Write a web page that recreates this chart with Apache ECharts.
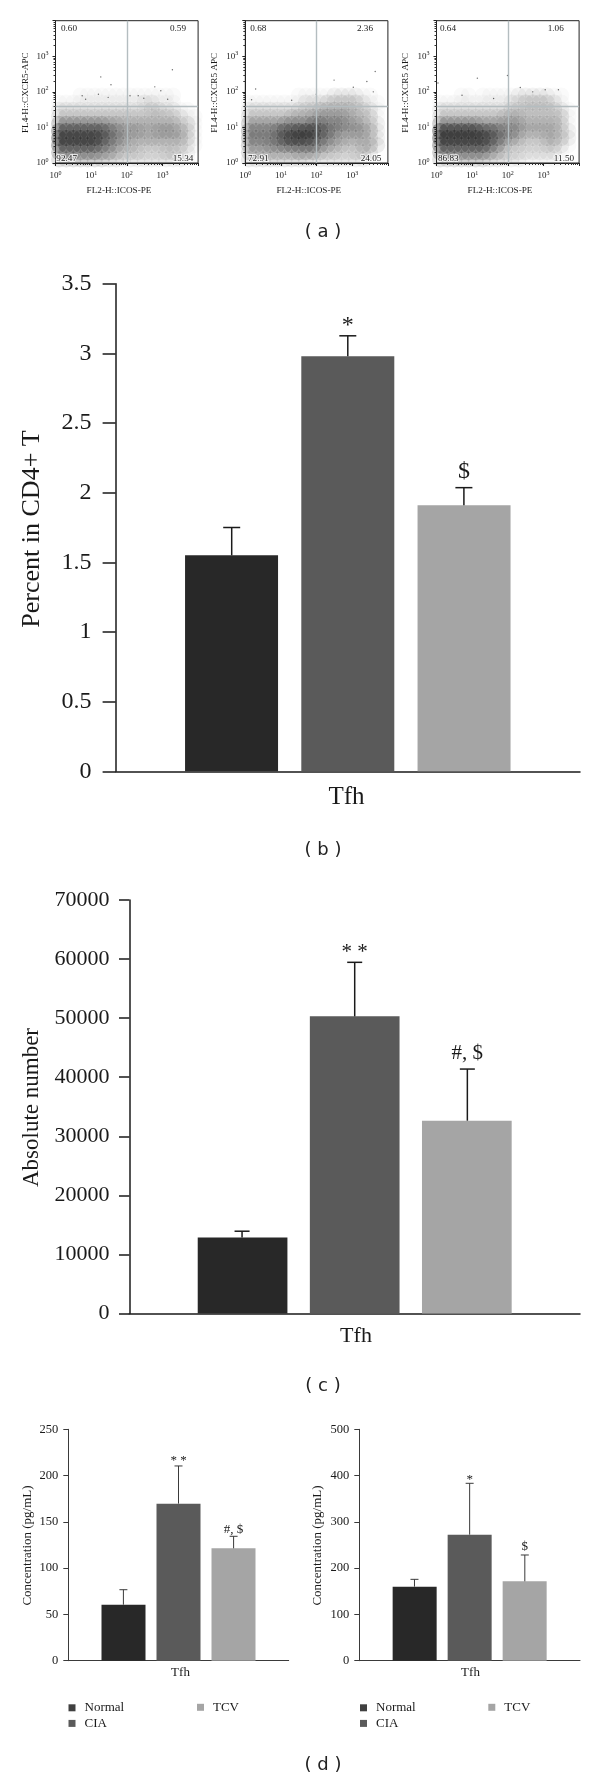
<!DOCTYPE html>
<html><head><meta charset="utf-8">
<style>html,body{margin:0;padding:0;background:#fff}#c{width:600px;height:1782px}</style>
<script src="https://cdn.jsdelivr.net/npm/echarts@6/dist/echarts.min.js"></script>
</head><body><div id="c"></div>
<script>
// ---- data ----
var groups = ['Normal', 'CIA', 'TCV'];
var category = ['Tfh'];
var percentMeans = [1.55, 2.98, 1.91];
var percentErrTops = [1.75, 3.126, 2.036];
var percentMarks = ['', '*', '$'];
var absoluteMeans = [12880, 50300, 32640];
var absoluteErrTops = [13930, 59450, 41380];
var absoluteMarks = ['', '* *', '#, $'];
var concLeftMeans = [60.5, 169.7, 121.4];
var concLeftErrTops = [76.7, 210.4, 134.4];
var concLeftMarks = ['', '* *', '#, $'];
var concRightMeans = [160, 272.3, 171.5];
var concRightErrTops = [175.8, 383.3, 228.4];
var concRightMarks = ['', '*', '$'];

// Flow plots: estimated darkness (0-9) of the dot cloud, per 0.2-decade cell.
// Rows run from y = 10^2.2 (top) down to y = 10^0; columns from x = 10^0 to 10^4.
var densityA = [
 '00000000000000000000','00000000000000000000',
 '00011111111111111000','11111111111122111000',
 '22222222222223322110','33333333333333333211',
 '66666665544444444331','88888887655544555431',
 '99999987654444444431','88888876544333333321',
 '66666655433322233220','44444443322222222210'];
var densityB = [
 '00000000000000000000','00000000000000000000',
 '00000001111122221100','11111111222333332110',
 '22222223334444433210','33333344455555443310',
 '55555666677666554320','66667889998765555420',
 '66667899987654444320','55566777776544334430',
 '44444445554332233300','33333333322222222100'];
var densityC = [
 '00000000000000000000','00000000000000000000',
 '00011011111222221100','11111111112233332100',
 '22222222223333333210','33333333344433333310',
 '66666655555544444310','99999988766544444320',
 '99999998765433344320','88888887643322233210',
 '66666665432222222100','44444443322211111100'];
var sparseA = [[18.6,263],[36,158],[1900,417],[610,138],[900,107],[16,86],[5.6,78],[123,78],[209,78],[7,62],[30,70],[300,66],[1400,62]];
var sparseB = [[1.95,120],[309,214],[4400,372],[2570,195],[1070,135],[98,86],[3890,100],[1.5,60],[20,58]];
var sparseC = [[14,243],[98,288],[1.1,178],[224,132],[1120,115],[2630,115],[5.2,80],[500,100],[40,65]];
var flowValuesA = ['0.60', '0.59', '92.47', '15.34'];
var flowValuesB = ['0.68', '2.36', '72.91', '24.05'];
var flowValuesC = ['0.64', '1.06', '86.83', '11.50'];
var quadrantX = 100, quadrantY = 40;
var flowXTitle = 'FL2-H::ICOS-PE';
var flowYTitles = ['FL4-H::CXCR5-APC', 'FL4-H::CXCR5 APC', 'FL4-H::CXCR5 APC'];
var captions = ['( a )', '( b )', '( c )', '( d )'];

// ---- styling ----
var serif = '"Liberation Serif", serif';
var barColors = ['#282828', '#5a5a5a', '#a5a5a5'];
var grids = [], xAxes = [], yAxes = [], series = [], graphics = [], legends = [];

function cellsFrom(rows) {
  var out = [];
  rows.forEach(function (row, r) {
    var decadeY = (rows.length - 1 - r + 0.5) / 5;
    row.split('').forEach(function (ch, c) {
      if (+ch > 0) out.push([Math.pow(10, (c + 0.5) / 5), Math.pow(10, decadeY), +ch]);
    });
  });
  return out;
}
function textAt(text, x, y, font, opts) {
  opts = opts || {};
  var style = { text: text, font: font, fill: opts.fill || '#1a1a1a', textAlign: 'center', textVerticalAlign: 'middle' };
  if (opts.halo) { style.stroke = 'rgba(255,255,255,0.75)'; style.lineWidth = 2; }
  graphics.push({ type: 'text', x: x, y: y, rotation: opts.rot || 0, z: 50, silent: true, style: style });
}
function powerLabel(v) {
  var e = Math.round(Math.log(v) / Math.LN10);
  return e > 3 ? '' : '{b|10}{s|' + e + '}';
}
function flowPanel(left, density, sparse, values, yTitle, yTitleX, pos) {
  var g = grids.length;
  grids.push({ left: left, top: 20.7, width: 142.6, height: 142.3, show: true, borderColor: '#222', borderWidth: 1, backgroundColor: 'transparent' });
  var rich = { b: { fontFamily: serif, fontSize: 9, color: '#222' }, s: { fontFamily: serif, fontSize: 6, color: '#222', padding: [0, 0, 6, 0] } };
  var common = { type: 'log', logBase: 10, min: 1, max: 10000, gridIndex: g, splitLine: { show: false },
    axisLine: { show: true, lineStyle: { color: '#222', width: 1 } },
    axisTick: { show: true, length: 3, lineStyle: { color: '#222' } },
    minorTick: { show: true, splitNumber: 9, length: 2, lineStyle: { color: '#333' } },
    minorSplitLine: { show: false },
    axisLabel: { formatter: powerLabel, rich: rich, margin: 7, hideOverlap: false, showMaxLabel: true } };
  xAxes.push(Object.assign({}, common));
  yAxes.push(Object.assign({}, common));
  series.push({ type: 'scatter', name: 'density', xAxisIndex: g, yAxisIndex: g, symbol: 'circle', symbolSize: 16, clip: true, silent: true, z: 2,
    data: cellsFrom(density),
    itemStyle: { opacity: 1, color: function (p) {
      var a = 1 - Math.pow(1 - p.data[2] / 9 * 0.8, 1 / 3.7);
      return 'rgba(22,22,22,' + a.toFixed(3) + ')'; } },
    markLine: { silent: true, symbol: 'none', animation: false, label: { show: false }, z: 4,
      lineStyle: { color: '#b4bdc0', width: 1.4, type: 'solid' },
      data: [{ xAxis: quadrantX }, { yAxis: quadrantY }] } });
  series.push({ type: 'scatter', name: 'sparse', xAxisIndex: g, yAxisIndex: g, symbolSize: 1.4, silent: true, z: 3, data: sparse, itemStyle: { color: '#444' } });
  var font = '9.2px ' + serif;
  textAt(values[0], pos[0], 29, font); textAt(values[1], pos[1], 29, font);
  textAt(values[2], pos[2], 158.8, font, { halo: true }); textAt(values[3], pos[3], 158.8, font, { halo: true });
  textAt(flowXTitle, left + 63.5, 190.7, font);
  textAt(yTitle, yTitleX, 92.7, font, { rot: Math.PI / 2 });
}
function barPanel(o) {
  var g = grids.length;
  grids.push({ left: o.left, right: 600 - o.right, top: o.top, height: o.bottom - o.top });
  xAxes.push({ type: 'category', gridIndex: g, data: category,
    axisLine: { lineStyle: { color: o.axisColor, width: o.lineW } }, axisTick: { show: false }, splitLine: { show: false },
    axisLabel: { show: false } });
  yAxes.push({ type: 'value', gridIndex: g, min: 0, max: o.max, interval: o.interval, splitLine: { show: false },
    axisLine: { show: true, lineStyle: { color: o.axisColor, width: o.lineW } },
    axisTick: { show: true, length: o.tick, lineStyle: { color: o.axisColor, width: o.lineW } },
    axisLabel: { fontFamily: serif, fontSize: o.font, color: '#1a1a1a', margin: o.labelMargin, formatter: function (v) { return String(v); } } });
  groups.forEach(function (name, i) {
    series.push({ type: 'bar', name: name, xAxisIndex: g, yAxisIndex: g, data: [o.means[i]], barWidth: o.barW, barGap: '25%', itemStyle: { color: barColors[i] }, silent: true, z: 3 });
  });
  series.push({ type: 'custom', name: 'error', xAxisIndex: g, yAxisIndex: g, silent: true, z: 4, clip: false,
    data: groups.map(function (n, i) { return [0, o.errTops[i], o.means[i], i]; }),
    encode: { x: 0, y: 1 },
    renderItem: function (params, api) {
      var i = api.value(3);
      var off = api.size([1, 0])[0] * 0.25 * (i - 1);
      var top = api.coord([0, api.value(1)]), base = api.coord([0, api.value(2)]);
      var x = top[0] + off, children = [
        { type: 'line', shape: { x1: x, y1: base[1], x2: x, y2: top[1] }, style: { stroke: o.axisColor, lineWidth: o.lineW } },
        { type: 'line', shape: { x1: x - o.cap / 2, y1: top[1], x2: x + o.cap / 2, y2: top[1] }, style: { stroke: o.axisColor, lineWidth: o.lineW } }
      ];
      if (o.marks[i]) {
        var gap = o.marks[i].charAt(0) === '*' ? o.starGap : o.markGap;
        children.push({ type: 'text', style: { text: o.marks[i], x: x, y: top[1] - gap, textAlign: 'center', textVerticalAlign: 'bottom', font: o.markFont + 'px ' + serif, fill: '#1a1a1a' } });
      }
      return { type: 'group', children: children };
    } });
  textAt(category[0], o.tfh[0], o.tfh[1], o.tfhFont + 'px ' + serif);
  textAt(o.yTitle, o.yTitleAt[0], o.yTitleAt[1], o.titleFont + 'px ' + serif, { rot: Math.PI / 2 });
  if (o.legend) {
    var style = { fontFamily: serif, fontSize: 13, color: '#1a1a1a', lineHeight: 15.6, padding: [0, 0, 0, 4] };
    legends.push({ left: o.legend[0], top: 1700, padding: 0, orient: 'vertical', itemWidth: 7, itemHeight: 7, itemGap: 0, textStyle: style, icon: 'rect', selectedMode: false,
      data: [{ name: 'Normal', itemStyle: { color: '#404040' } }, { name: 'CIA', itemStyle: { color: '#5a5a5a' } }] });
    legends.push({ left: o.legend[1], top: 1699.5, padding: 0, orient: 'vertical', itemWidth: 7, itemHeight: 7, itemGap: 0, textStyle: style, icon: 'rect', selectedMode: false,
      data: [{ name: 'TCV', itemStyle: { color: '#a5a5a5' } }] });
  }
}

flowPanel(55.5, densityA, sparseA, flowValuesA, flowYTitles[0], 26, [69, 178, 66.7, 183]);
flowPanel(245.3, densityB, sparseB, flowValuesB, flowYTitles[1], 215, [258.3, 365, 258.3, 371]);
flowPanel(436.5, densityC, sparseC, flowValuesC, flowYTitles[2], 406, [448, 555.7, 448.3, 564]);

barPanel({ left: 115.6, right: 580, top: 283.7, bottom: 771.3, max: 3.5, interval: 0.5, means: percentMeans, errTops: percentErrTops, marks: percentMarks,
  barW: 93, cap: 17, tick: 13, lineW: 1.5, axisColor: '#1a1a1a', font: 24, labelMargin: 24, markFont: 24, markGap: 4, starGap: -2,
  tfh: [346.5, 797.7], tfhFont: 25, yTitle: 'Percent in CD4+ T', yTitleAt: [32.5, 529], titleFont: 26 });
barPanel({ left: 129.4, right: 580, top: 900, bottom: 1313.5, max: 70000, interval: 10000, means: absoluteMeans, errTops: absoluteErrTops, marks: absoluteMarks,
  barW: 89.7, cap: 15, tick: 10.4, lineW: 1.5, axisColor: '#1a1a1a', font: 22, labelMargin: 20, markFont: 21, markGap: 4.7, starGap: -0.5,
  tfh: [356, 1336.6], tfhFont: 22, yTitle: 'Absolute number', yTitleAt: [32, 1107.5], titleFont: 23 });
barPanel({ left: 68.3, right: 288.7, top: 1429.3, bottom: 1660.7, max: 250, interval: 50, means: concLeftMeans, errTops: concLeftErrTops, marks: concLeftMarks,
  barW: 44, cap: 8, tick: 5, lineW: 1, axisColor: '#3a3a3a', font: 12.5, labelMargin: 10, markFont: 13, markGap: 0.3, starGap: -1.6,
  tfh: [180.5, 1673], tfhFont: 13, yTitle: 'Concentration (pg/mL)', yTitleAt: [27.3, 1545.5], titleFont: 13, legend: [68.5, 197] });
barPanel({ left: 359.3, right: 580, top: 1429.3, bottom: 1660.7, max: 500, interval: 100, means: concRightMeans, errTops: concRightErrTops, marks: concRightMarks,
  barW: 44, cap: 8, tick: 5, lineW: 1, axisColor: '#3a3a3a', font: 12.5, labelMargin: 10, markFont: 13, markGap: 1.7, starGap: -2.3,
  tfh: [470.5, 1673], tfhFont: 13, yTitle: 'Concentration (pg/mL)', yTitleAt: [317.3, 1545.5], titleFont: 13, legend: [360, 488.3] });

[[232], [850], [1386.5], [1765.7]].forEach(function (p, i) {
  textAt(captions[i], 323, p[0], '18px "DejaVu Sans", sans-serif', { fill: '#222' });
});

var chart = echarts.init(document.getElementById('c'), null, { renderer: 'canvas', width: 600, height: 1782 });
chart.setOption({ animation: false, backgroundColor: '#fff', grid: grids, xAxis: xAxes, yAxis: yAxes, series: series, legend: legends, graphic: { elements: graphics }, tooltip: { show: false } });
</script></body></html>
